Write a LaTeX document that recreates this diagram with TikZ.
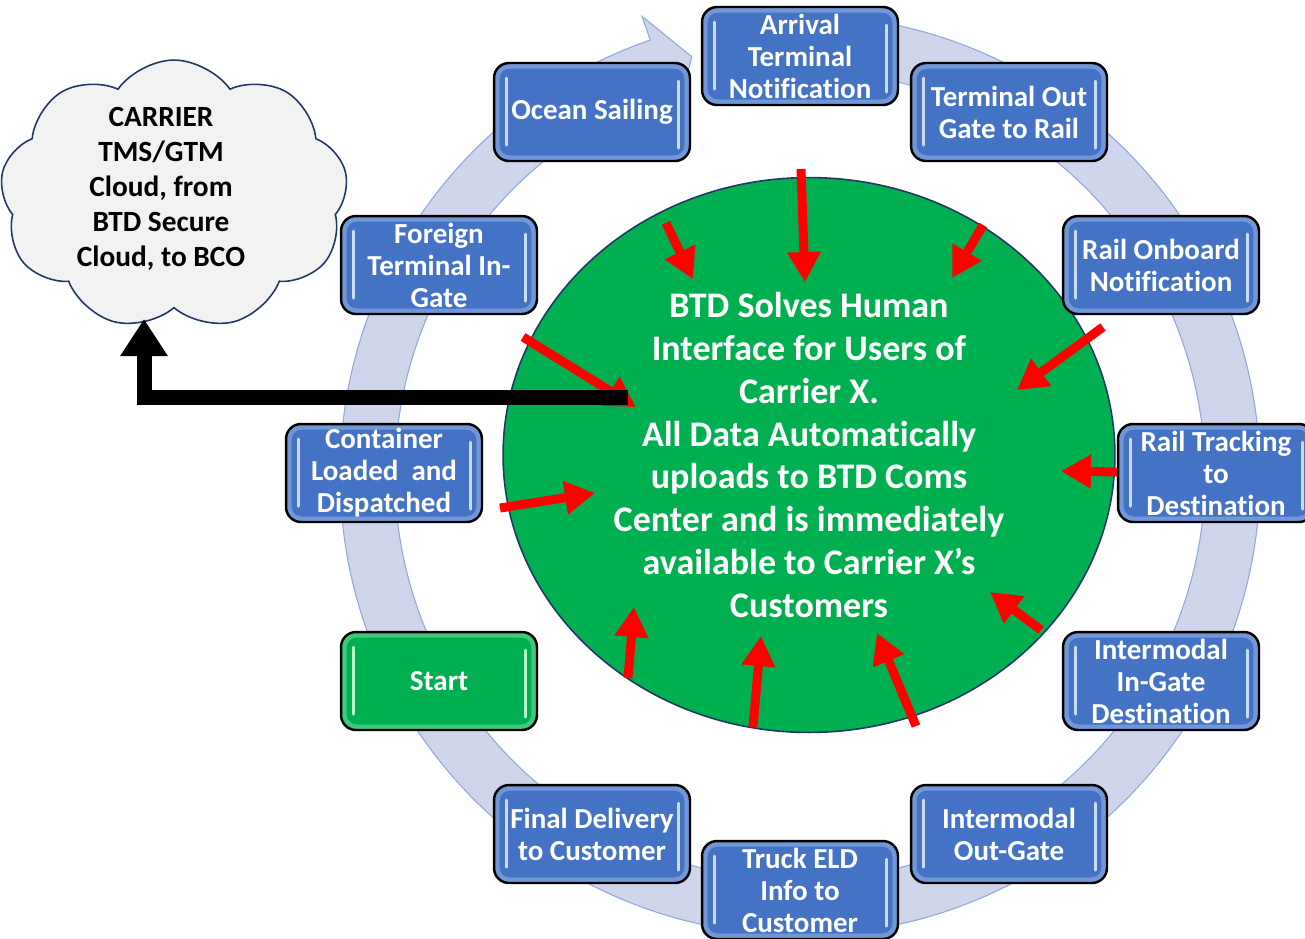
\documentclass[tikz,border=0pt]{standalone}
\usepackage{fontspec}
\setmainfont{Carlito}[Ligatures=NoCommon]
\usetikzlibrary{shapes.geometric,shapes.symbols,arrows.meta,calc}

\definecolor{stageblue}{RGB}{68,114,196}
\definecolor{stagegloss}{RGB}{200,222,252}
\definecolor{startgreen}{RGB}{0,176,80}
\definecolor{startgloss}{RGB}{185,250,205}
\definecolor{ringfill}{RGB}{207,213,234}
\definecolor{ringline}{RGB}{143,170,220}
\definecolor{hubline}{RGB}{31,56,100}
\definecolor{cloudfill}{RGB}{242,242,242}

\tikzset{
  stage/.style n args={2}{draw=black, line width=1.4pt, rounded corners=0.3cm,
    fill=#1, minimum width=3.92cm, minimum height=1.96cm, inner sep=0pt,
    align=center, text=white, font=\bfseries\fontsize{16.5}{18.2}\selectfont,
    path picture={
      \draw[#2, opacity=0.35, line width=0.1cm, rounded corners=0.25cm]
        ($(path picture bounding box.north west)+(3,3)$) rectangle ($(path picture bounding box.south east)+(-3,-3)$);
      \draw[#2, line width=0.06cm, line cap=round]
        ($(path picture bounding box.north west)+(12,15)$) -- ($(path picture bounding box.north west)+(12,82)$)
        ($(path picture bounding box.north east)+(-11,18)$) -- ($(path picture bounding box.north east)+(-11,85)$);
    }},
  ring/.style={fill=ringfill, draw=ringline, line width=0.6pt},
  hub/.style={ellipse, draw=hubline, line width=0.9pt, fill=startgreen,
    minimum width=12.24cm, minimum height=11.1cm, inner sep=0pt,
    align=center, text=white, font=\bfseries\fontsize{20.5}{24.4}\selectfont},
  pointer/.style={draw=red, line width=0.18cm, -{Triangle[length=0.6cm, width=0.64cm]}},
  feed/.style={draw=black, line width=0.3cm, -{Triangle[length=0.74cm, width=0.9cm]}}
}

\begin{document}
\begin{tikzpicture}[x=0.02cm, y=-0.02cm]
        \useasboundingbox (0,0) rectangle (1305,938);

        % cycle band with its head near the top
        \begin{scope}[shift={(800,475)}]
          \filldraw[ring] (-95:460) arc[start angle=-95, end angle=251, radius=460]
            -- (251:485) -- (255.5:432) -- (251:380) -- (251:405)
            arc[start angle=251, end angle=-95, radius=405] -- cycle;
        \end{scope}

        \node[hub] (hub) at (809,455) {BTD Solves Human\\Interface for Users of\\Carrier X.\\All Data Automatically\\uploads to BTD Coms\\Center and is immediately\\available to Carrier X’s\\Customers};

        % red arrows into the hub
        \coordinate (p1) at (666,223);  \coordinate (q1) at (693,279);
        \coordinate (p2) at (801,169);  \coordinate (q2) at (805,282);
        \coordinate (p3) at (983,225);  \coordinate (q3) at (952,278);
        \coordinate (p4) at (523,337);  \coordinate (q4) at (636,407);
        \coordinate (p5) at (1103,327); \coordinate (q5) at (1017,390);
        \coordinate (p6) at (1117,472); \coordinate (q6) at (1061,471);
        \coordinate (p7) at (500,508);  \coordinate (q7) at (595,493);
        \coordinate (p8) at (628,678);  \coordinate (q8) at (634,607);
        \coordinate (p9) at (753,727);  \coordinate (q9) at (761,636);
        \coordinate (p10) at (916,726); \coordinate (q10) at (877,633);
        \coordinate (p11) at (1041,630); \coordinate (q11) at (990,592);
        \draw[pointer] (p1) -- (q1);
        \draw[pointer] (p2) -- (q2);
        \draw[pointer] (p3) -- (q3);
        \draw[pointer] (p4) -- (q4);
        \draw[pointer] (p5) -- (q5);
        \draw[pointer] (p6) -- (q6);
        \draw[pointer] (p7) -- (q7);
        \draw[pointer] (p8) -- (q8);
        \draw[pointer] (p9) -- (q9);
        \draw[pointer] (p10) -- (q10);
        \draw[pointer] (p11) -- (q11);

        % stages round the band
        \node[stage={stageblue}{stagegloss}] (arrival) at (800,56) {Arrival\\Terminal\\Notification};
        \node[stage={stageblue}{stagegloss}] (ocean) at (592,112) {Ocean Sailing};
        \node[stage={stageblue}{stagegloss}] (outgate) at (1009,112) {Terminal Out\\Gate to Rail};
        \node[stage={stageblue}{stagegloss}] (foreign) at (439,265) {Foreign\\Terminal In-\\Gate};
        \node[stage={stageblue}{stagegloss}] (onboard) at (1161,265) {Rail Onboard\\Notification};
        \node[stage={stageblue}{stagegloss}] (loaded) at (384,473) {Container\\Loaded~ and\\Dispatched};
        \node[stage={stageblue}{stagegloss}] (tracking) at (1216,473) {Rail Tracking\\to\\Destination};
        \node[stage={startgreen}{startgloss}] (start) at (439,681) {Start};
        \node[stage={stageblue}{stagegloss}] (ingate) at (1161,681) {Intermodal\\In-Gate\\Destination};
        \node[stage={stageblue}{stagegloss}] (final) at (592,834) {Final Delivery\\to Customer};
        \node[stage={stageblue}{stagegloss}] (imout) at (1009,834) {Intermodal\\Out-Gate};
        \node[stage={stageblue}{stagegloss}] (truck) at (800,890) {Truck ELD\\Info to\\Customer};

        % carrier cloud
        \node[cloud, cloud puffs=9, cloud puff arc=110, aspect=1.3, draw=hubline, line width=0.9pt, fill=cloudfill,
          minimum width=6.96cm, minimum height=5.4cm, inner sep=0pt] (cloud) at (174,195) {};
        \node[align=center, font=\bfseries\fontsize{16.7}{19.9}\selectfont] (cloudtext) at (161,189)
          {CARRIER\\TMS/GTM\\Cloud, from\\BTD Secure\\Cloud, to BCO};

        \coordinate (tap) at (628,397);
        \coordinate (drop) at (144,319);
        \draw[feed] (tap) -| (drop);
\end{tikzpicture}
\end{document}
